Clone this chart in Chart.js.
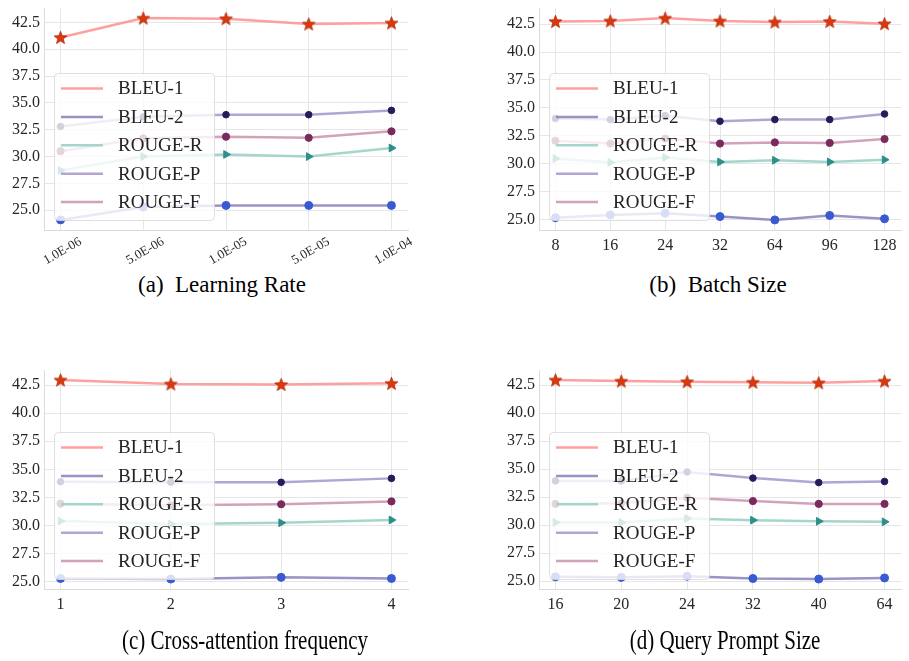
<!DOCTYPE html>
<html>
<head>
<meta charset="utf-8">
<script src="https://cdn.jsdelivr.net/npm/chart.js@4.4.1/dist/chart.umd.min.js"></script>
<style>
body { margin: 0; background: #fff; width: 909px; height: 661px; position: relative; overflow: hidden; font-family: "Liberation Serif", "DejaVu Serif", serif; }
canvas { position: absolute; }
.caption { position: absolute; width: 400px; text-align: center; color: #000; white-space: pre; line-height: 1; }
</style>
</head>
<body>
<canvas id="chartA" width="416" height="270" style="left:0;top:0"></canvas>
<canvas id="chartB" width="414" height="270" style="left:495px;top:0"></canvas>
<canvas id="chartC" width="416" height="267" style="left:0;top:362px"></canvas>
<canvas id="chartD" width="414" height="267" style="left:495px;top:362px"></canvas>
<div class="caption" style="left:22px;top:273px;font-size:23px">(a)  Learning Rate</div>
<div class="caption" style="left:518px;top:273px;font-size:23px">(b)  Batch Size</div>
<div class="caption" style="left:45px;top:630px;font-size:21px;transform:scaleY(1.3)">(c) Cross-attention frequency</div>
<div class="caption" style="left:525px;top:630px;font-size:21px;transform:scaleY(1.3)">(d) Query Prompt Size</div>

<script>
// series names, in legend order
const seriesNames = ['BLEU-1', 'BLEU-2', 'ROUGE-R', 'ROUGE-P', 'ROUGE-F'];
const yTicks = [25.0, 27.5, 30.0, 32.5, 35.0, 37.5, 40.0, 42.5];

// (a) learning rate
const lrLabels = ['1.0E-06', '5.0E-06', '1.0E-05', '5.0E-05', '1.0E-04'];
const lrBleu1 = [41.1, 42.9, 42.85, 42.35, 42.45];
const lrBleu2 = [24.1, 25.3, 25.45, 25.45, 25.45];
const lrRougeR = [28.7, 30.0, 30.2, 30.0, 30.8];
const lrRougeP = [32.8, 33.7, 33.9, 33.9, 34.3];
const lrRougeF = [30.5, 31.7, 31.85, 31.75, 32.35];

// (b) batch size
const bsLabels = ['8', '16', '24', '32', '64', '96', '128'];
const bsBleu1 = [42.75, 42.8, 43.05, 42.8, 42.7, 42.75, 42.55];
const bsBleu2 = [25.15, 25.4, 25.55, 25.25, 24.95, 25.35, 25.05];
const bsRougeR = [30.45, 30.1, 30.55, 30.15, 30.3, 30.15, 30.35];
const bsRougeP = [34.05, 33.95, 34.3, 33.8, 33.95, 33.95, 34.45];
const bsRougeF = [32.05, 31.8, 32.25, 31.8, 31.9, 31.85, 32.2];

// (c) cross-attention frequency
const caLabels = ['1', '2', '3', '4'];
const caBleu1 = [42.95, 42.6, 42.55, 42.65];
const caBleu2 = [25.3, 25.25, 25.4, 25.3];
const caRougeR = [30.4, 30.15, 30.25, 30.5];
const caRougeP = [33.9, 33.85, 33.85, 34.2];
const caRougeF = [31.95, 31.8, 31.9, 32.15];

// (d) query prompt size
const qpLabels = ['16', '20', '24', '32', '40', '64'];
const qpBleu1 = [42.95, 42.85, 42.8, 42.75, 42.7, 42.85];
const qpBleu2 = [25.4, 25.35, 25.45, 25.25, 25.2, 25.3];
const qpRougeR = [30.25, 30.25, 30.6, 30.45, 30.35, 30.3];
const qpRougeP = [33.95, 33.95, 34.75, 34.2, 33.8, 33.9];
const qpRougeF = [31.9, 31.95, 32.45, 32.15, 31.9, 31.9];

const FONT = 'Liberation Serif';

function makeStar(size, fill, edge) {
    const c = document.createElement('canvas');
    c.width = c.height = size;
    const g = c.getContext('2d');
    const R = size / 2 - 0.7, r = R * 0.42;
    g.beginPath();
    for (let k = 0; k < 10; k++) {
        const a = -Math.PI / 2 + k * Math.PI / 5;
        const rad = k % 2 ? r : R;
        g.lineTo(size / 2 + rad * Math.cos(a), size / 2 + 0.6 + rad * Math.sin(a));
    }
    g.closePath();
    g.fillStyle = fill;
    g.fill();
    g.strokeStyle = edge;
    g.lineWidth = 0.8;
    g.stroke();
    return c;
}

const seriesStyles = [
    { line: 'rgba(255,150,150,0.9)', marker: '#d7380e', style: makeStar(15, '#d9390d', '#b52a08'), radius: 7, rotation: 0 },
    { line: 'rgba(135,128,188,0.85)', marker: '#3a5ad2', style: 'circle', radius: 4, rotation: 0 },
    { line: 'rgba(155,210,200,0.9)', marker: '#2d9088', style: 'triangle', radius: 4.5, rotation: 90 },
    { line: 'rgba(168,156,206,0.9)', marker: '#261c5a', style: 'circle', radius: 3.3, rotation: 0 },
    { line: 'rgba(205,152,178,0.9)', marker: '#7a2a5c', style: 'circle', radius: 3.6, rotation: 0 }
];

// legend drawn inside the plot, lower left, over the lines
const boxLegend = {
    id: 'boxLegend',
    afterDatasetsDraw(chart) {
        const { ctx, chartArea } = chart;
        const w = 160, h = 147;
        const x = chartArea.left + 10, y = chartArea.bottom - 10 - h;
        ctx.save();
        ctx.beginPath();
        ctx.roundRect(x + 0.5, y + 0.5, w, h, 4);
        ctx.fillStyle = 'rgba(255,255,255,0.8)';
        ctx.fill();
        ctx.strokeStyle = 'rgba(215,215,215,0.8)';
        ctx.lineWidth = 1;
        ctx.stroke();
        ctx.font = '19px "' + FONT + '"';
        ctx.textBaseline = 'middle';
        chart.data.datasets.forEach((ds, i) => {
            const cy = y + 15.5 + i * 28.4;
            ctx.strokeStyle = ds.borderColor;
            ctx.lineWidth = 2.5;
            ctx.beginPath();
            ctx.moveTo(x + 7, cy);
            ctx.lineTo(x + 49, cy);
            ctx.stroke();
            ctx.fillStyle = '#222';
            ctx.fillText(ds.label, x + 64, cy + 1);
        });
        ctx.restore();
    }
};

function buildChart(id, labels, series, opts) {
    const all = series.flat();
    const lo = Math.min(...all), hi = Math.max(...all);
    const pad = (hi - lo) * 0.05;
    const xm = (labels.length - 1) * 0.05;

    const datasets = series.map((vals, i) => {
        const s = seriesStyles[i];
        return {
            label: seriesNames[i],
            data: vals.map((v, k) => ({ x: k, y: v })),
            borderColor: s.line,
            borderWidth: 2.5,
            pointStyle: s.style,
            pointRadius: s.radius,
            pointRotation: s.rotation,
            pointBackgroundColor: s.marker,
            pointBorderColor: s.marker,
            pointBorderWidth: 1,
            tension: 0
        };
    });

    return new Chart(document.getElementById(id), {
        type: 'line',
        data: { datasets },
        options: {
            responsive: false,
            animation: false,
            layout: { padding: 0 },
            plugins: { legend: { display: false }, tooltip: { enabled: false } },
            scales: {
                x: {
                    type: 'linear',
                    min: -xm,
                    max: labels.length - 1 + xm,
                    afterBuildTicks: s => { s.ticks = labels.map((_, k) => ({ value: k })); },
                    afterFit: s => { s.height = opts.xHeight; s.paddingLeft = 0; s.paddingRight = 0; },
                    grid: { color: '#e6e6e6', drawTicks: false },
                    border: { color: '#dadada' },
                    ticks: {
                        autoSkip: false,
                        minRotation: opts.rot,
                        maxRotation: opts.rot,
                        labelOffset: opts.labelOffset,
                        padding: opts.xPad,
                        color: '#262626',
                        font: { family: FONT, size: opts.xFont },
                        callback: v => labels[v]
                    }
                },
                y: {
                    min: lo - pad,
                    max: hi + pad,
                    afterBuildTicks: s => { s.ticks = yTicks.filter(v => v >= s.min && v <= s.max).map(v => ({ value: v })); },
                    afterFit: s => { s.width = 44; s.paddingTop = 0; s.paddingBottom = 0; },
                    grid: { color: '#e6e6e6', drawTicks: false },
                    border: { color: '#dadada' },
                    ticks: {
                        padding: 4,
                        color: '#262626',
                        font: { family: FONT, size: 16 },
                        callback: v => v.toFixed(1)
                    }
                }
            }
        },
        plugins: [boxLegend]
    });
}

buildChart('chartA', lrLabels, [lrBleu1, lrBleu2, lrRougeR, lrRougeP, lrRougeF],
    { xHeight: 40, rot: 30, labelOffset: 20, xPad: 4, xFont: 13 });
buildChart('chartB', bsLabels, [bsBleu1, bsBleu2, bsRougeR, bsRougeP, bsRougeF],
    { xHeight: 40, rot: 0, labelOffset: 0, xPad: 6, xFont: 16 });
buildChart('chartC', caLabels, [caBleu1, caBleu2, caRougeR, caRougeP, caRougeF],
    { xHeight: 40, rot: 0, labelOffset: 0, xPad: 6, xFont: 16 });
buildChart('chartD', qpLabels, [qpBleu1, qpBleu2, qpRougeR, qpRougeP, qpRougeF],
    { xHeight: 40, rot: 0, labelOffset: 0, xPad: 6, xFont: 16 });
</script>
</body>
</html>
